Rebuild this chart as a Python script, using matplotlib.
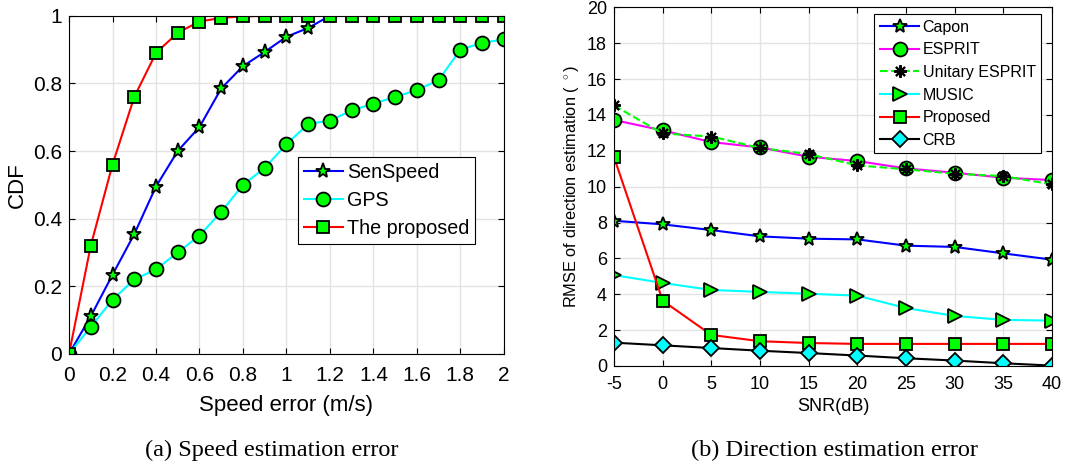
import matplotlib
matplotlib.use('Agg')
import matplotlib.pyplot as plt
import numpy as np

plt.rcParams['font.family'] = ['Liberation Sans', 'DejaVu Sans']
plt.rcParams['axes.unicode_minus'] = False
plt.rcParams['mathtext.fontset'] = 'custom'
plt.rcParams['mathtext.rm'] = 'Liberation Sans'

#==============================================================================
# data
speed_err  = [0.0, 0.1, 0.2, 0.3, 0.4, 0.5, 0.6, 0.7, 0.8, 0.9, 1.0,
              1.1, 1.2, 1.3, 1.4, 1.5, 1.6, 1.7, 1.8, 1.9, 2.0]
senspeed   = [0.0, 0.111, 0.234, 0.354, 0.495, 0.600, 0.671, 0.785, 0.851, 0.893, 0.938,
              0.964, 1.0, 1.0, 1.0, 1.0, 1.0, 1.0, 1.0, 1.0, 1.0]
gps        = [0.0, 0.08, 0.16, 0.22, 0.25, 0.30, 0.35, 0.42, 0.50, 0.55, 0.62,
              0.68, 0.69, 0.72, 0.74, 0.76, 0.78, 0.81, 0.90, 0.92, 0.93]
proposed_a = [0.0, 0.32, 0.56, 0.76, 0.89, 0.95, 0.983, 0.994, 0.998, 1.0, 1.0,
              1.0, 1.0, 1.0, 1.0, 1.0, 1.0, 1.0, 1.0, 1.0, 1.0]

snr        = [-5, 0, 5, 10, 15, 20, 25, 30, 35, 40]
capon      = [8.10, 7.90, 7.58, 7.23, 7.10, 7.06, 6.71, 6.64, 6.28, 5.93]
esprit     = [13.72, 13.14, 12.49, 12.19, 11.67, 11.43, 11.02, 10.78, 10.50, 10.37]
uesprit    = [14.53, 12.97, 12.80, 12.16, 11.82, 11.19, 10.97, 10.72, 10.59, 10.13]
music      = [5.07, 4.63, 4.24, 4.13, 4.03, 3.92, 3.23, 2.79, 2.57, 2.53]
proposed_b = [11.64, 3.64, 1.73, 1.38, 1.28, 1.23, 1.23, 1.23, 1.23, 1.23]
crb        = [1.30, 1.15, 1.00, 0.85, 0.72, 0.58, 0.43, 0.30, 0.15, 0.02]

#==============================================================================
green = '#00ff00'
lw    = 1.5
ms    = 9
gridc = '#e3e3e3'

def style_axes(ax, fs, xpad, ypad):
    ax.grid(True, color=gridc, linewidth=1.0)
    ax.set_axisbelow(True)
    ax.tick_params(direction='in', top=True, right=True, labelsize=fs,
                   length=4, width=0.8)
    ax.tick_params(axis='x', pad=xpad)
    ax.tick_params(axis='y', pad=ypad)
    for sp in ax.spines.values():
        sp.set_linewidth(0.8)

fig = plt.figure(figsize=(10.87, 4.65), dpi=100)

# (a) speed estimation error
ax1 = fig.add_axes([0.0635, 0.239, 0.400, 0.727])
ax1.plot(speed_err, senspeed, '-', color='blue', lw=lw, marker='*', ms=ms + 2,
         mfc=green, mec='black', mew=1.3, label='SenSpeed')
ax1.plot(speed_err, gps, '-', color='cyan', lw=lw, marker='o', ms=ms + 1,
         mfc=green, mec='black', mew=1.3, label='GPS')
ax1.plot(speed_err, proposed_a, '-', color='red', lw=lw, marker='s', ms=ms - 1,
         mfc=green, mec='black', mew=1.3, label='The proposed')
ax1.set_xlim(0, 2)
ax1.set_ylim(0, 1)
ax1.set_xticks(np.arange(0, 2.01, 0.2))
ax1.set_xticklabels(['0', '0.2', '0.4', '0.6', '0.8', '1', '1.2', '1.4', '1.6', '1.8', '2'])
ax1.set_yticks(np.arange(0, 1.01, 0.2))
ax1.set_yticklabels(['0', '0.2', '0.4', '0.6', '0.8', '1'])
style_axes(ax1, 15, 9, 5)
ax1.set_xlabel('Speed error (m/s)', fontsize=16, labelpad=7)
ax1.set_ylabel('CDF', fontsize=16, labelpad=4)
ax1.legend(loc='upper left', bbox_to_anchor=(0.274, 0.662), bbox_transform=fig.transFigure,
           fontsize=14.2, frameon=True, fancybox=False, edgecolor='black', framealpha=1,
           handlelength=2.0, borderpad=0.3, labelspacing=0.45, handletextpad=0.2,
           borderaxespad=0).get_frame().set_linewidth(0.8)

# (b) direction estimation error
ax2 = fig.add_axes([0.5649, 0.213, 0.4029, 0.771])
ax2.plot(snr, capon, '-', color='blue', lw=lw, marker='*', ms=ms + 1,
         mfc=green, mec='black', mew=1.3, label='Capon')
ax2.plot(snr, esprit, '-', color='magenta', lw=lw, marker='o', ms=ms + 1,
         mfc=green, mec='black', mew=1.3, label='ESPRIT')
ax2.plot(snr, uesprit, '--', color=green, lw=lw, marker=(8, 2, 0), ms=ms,
         mfc='black', mec='black', mew=1.5, label='Unitary ESPRIT')
ax2.plot(snr, music, '-', color='cyan', lw=lw, marker='>', ms=ms + 1,
         mfc=green, mec='black', mew=1.3, label='MUSIC')
ax2.plot(snr, proposed_b, '-', color='red', lw=lw, marker='s', ms=ms - 1,
         mfc=green, mec='black', mew=1.3, label='Proposed')
ax2.plot(snr, crb, '-', color='black', lw=lw, marker='D', ms=ms - 1,
         mfc='cyan', mec='black', mew=1.3, label='CRB')
ax2.set_xlim(-5, 40)
ax2.set_ylim(0, 20)
ax2.set_xticks(np.arange(-5, 41, 5))
ax2.set_yticks(np.arange(0, 21, 2))
style_axes(ax2, 13, 7, 5)
ax2.set_xlabel('SNR(dB)', fontsize=13, labelpad=4)
ax2.set_ylabel('RMSE of direction estimation ( $^\\circ$)', fontsize=11.8, labelpad=4)
ax2.legend(loc='upper left', bbox_to_anchor=(0.804, 0.970), bbox_transform=fig.transFigure,
           fontsize=11.5, frameon=True, fancybox=False, edgecolor='black', framealpha=1,
           handlelength=2.5, borderpad=0.35, labelspacing=0.48, handletextpad=0.2,
           borderaxespad=0).get_frame().set_linewidth(0.8)

# captions
fig.text(0.250, 0.032, '(a) Speed estimation error', ha='center', va='center',
         fontsize=17.5, family=['Liberation Serif', 'DejaVu Serif'])
fig.text(0.768, 0.032, '(b) Direction estimation error', ha='center', va='center',
         fontsize=17.5, family=['Liberation Serif', 'DejaVu Serif'])

fig.savefig('out.png', dpi=100)
